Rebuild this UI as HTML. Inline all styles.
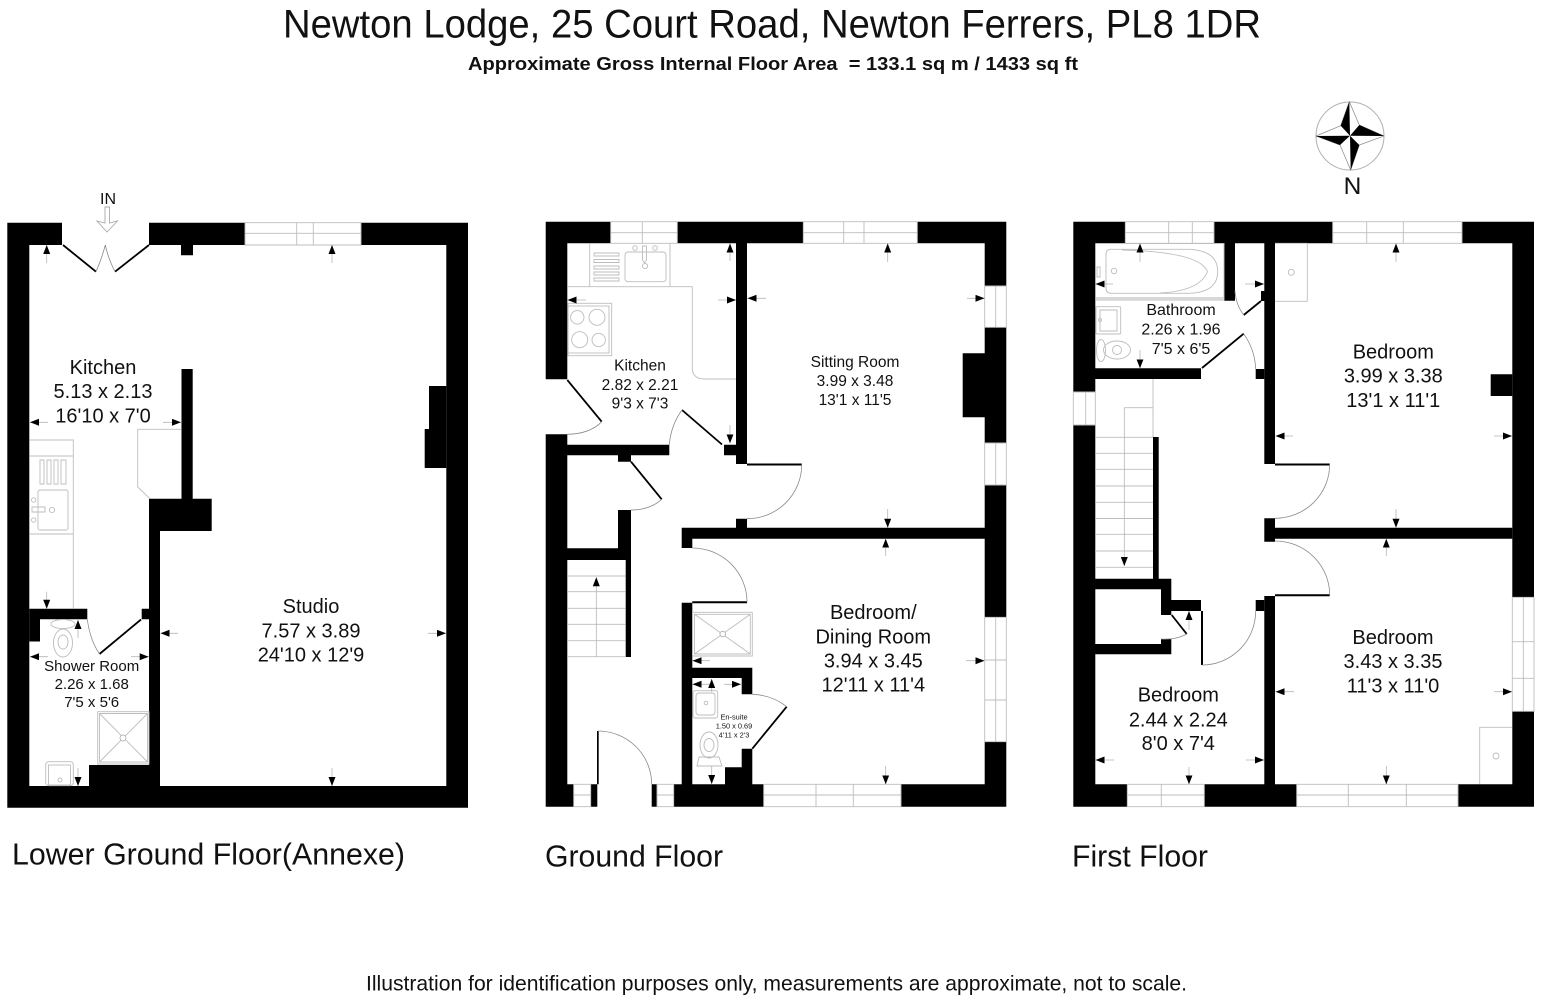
<!DOCTYPE html>
<html><head><meta charset="utf-8"><title>Newton Lodge floor plan</title>
<style>
html,body{margin:0;padding:0;background:#fff;width:1544px;height:1008px;overflow:hidden}
svg{display:block}
text{font-family:"Liberation Sans",sans-serif;fill:#111;text-anchor:middle}
.w{fill:#000}
.g{fill:none;stroke:#bdbdbd;stroke-width:.9}
.d{fill:none;stroke:#8a8a8a;stroke-width:.8}
.l{fill:none;stroke:#000;stroke-width:1.8}
.a{fill:none;stroke:#b5b5b5;stroke-width:.8;marker-end:url(#h)}
.t20{font-size:20px}.t15{font-size:15.5px}.t16{font-size:16px}.s15{font-size:15px}.t7{font-size:7.4px}
.f{font-size:31px;text-anchor:start}
</style></head><body>
<svg width="1544" height="1008" viewBox="0 0 1544 1008" xmlns="http://www.w3.org/2000/svg">
<defs><marker id="h" markerUnits="userSpaceOnUse" markerWidth="10" markerHeight="8" refX="9" refY="3.5" orient="auto"><path d="M0 0L9 3.5L0 7Z" fill="#000"/></marker></defs>
<rect width="1544" height="1008" fill="#fff"/>

<text x="772" y="37.300" font-size="39.500" textLength="978" lengthAdjust="spacingAndGlyphs">Newton Lodge, 25 Court Road, Newton Ferrers, PL8 1DR</text>
<text x="773" y="70" font-size="18.500" font-weight="bold" textLength="610" lengthAdjust="spacingAndGlyphs" xml:space="preserve">Approximate Gross Internal Floor Area  = 133.1 sq m / 1433 sq ft</text>

<!-- compass -->
<circle cx="1350" cy="136" r="34" fill="none" stroke="#b0b0b0" stroke-width="1"/>
<path d="M1349.300 101.700L1359.300 125L1384 136L1359.300 145L1350.700 170L1340 145L1316 136L1340.700 125.700Z" fill="#fff" stroke="#888" stroke-width=".7"/>
<path d="M1349.300 101.700L1340.700 125.700L1350 135.700ZM1384 136L1359.300 125L1350 135.700ZM1350.700 170L1359.300 145L1350 135.700ZM1316 136L1340 145L1350 135.700Z" fill="#000"/>
<text x="1352.500" y="194" font-size="24.500">N</text>

<!-- ================= LOWER GROUND ================= -->
<path class="w" d="M7.300 222.700H62V245H29.300V786H149V765H89V786H149V531H160V786H446.300V245H361V222.700H468V807.700H7.300Z"/>
<path class="w" d="M149 222.700H245V245H149ZM181 245H193V255.300H181ZM181.500 369H192.700V498.700H211.700V531H149V498.700H181.500Z"/>
<path class="w" d="M429 386H446.300V468H424.700V429H429Z"/>
<path class="w" d="M29.300 608.700H87.300V619.300H40V641.500H29.300ZM141.700 608.700H149V619.300H141.700ZM89 765H149V786H89Z"/>
<path class="g" d="M245 222.700H361V245H245ZM245 233.300H361M296.700 222.700V245M313.300 222.700V245"/>
<path class="l" d="M63 245L96 271.700M149 245L115 271.700M141 619.500L99.500 654"/>
<path class="d" d="M96 271.700Q102 258 105.300 245Q108 258 115 271.700M99.500 654Q90 640 87.300 619.500"/>
<path class="g" d="M29.300 440H73.300V608.700M29.300 456H73.300M29.300 534H73.300"/>
<path class="g" d="M40 460h4v24h-4zM47 460h4v24h-4zM54 460h4v24h-4zM61 460h5v24h-5z"/>
<rect class="g" x="38" y="490" width="30" height="40" rx="2"/>
<path class="g" d="M32 507h13v5h-13z"/><circle class="g" cx="33.700" cy="500" r="2.200"/><circle class="g" cx="33.700" cy="520" r="2.200"/><circle class="g" cx="52" cy="510" r="2.600"/>
<path class="g" d="M181 429.300H137.700V487L150 498.700"/>
<path class="g" d="M97.700 711.700H149V764H97.700ZM99.500 713.500H147.500V762H99.500ZM99.500 713.500L147.500 762M147.500 713.500L99.500 762"/><circle cx="123" cy="738" r="3" fill="#fff" stroke="#aaa" stroke-width=".8"/>
<ellipse class="g" cx="63" cy="624" rx="12" ry="4.500"/><ellipse class="g" cx="63" cy="643" rx="9.500" ry="14"/><ellipse class="g" cx="63" cy="642" rx="5" ry="7"/>
<rect class="g" x="45.700" y="761.700" width="27.600" height="24" rx="3"/><rect class="g" x="48.500" y="765" width="22" height="20"/><circle class="g" cx="60" cy="780" r="2"/>
<path d="M105 207V223L97 221L107 232L117.500 221L109.500 223V207Z" fill="#fff" stroke="#aaa" stroke-width=".9"/>
<text x="108" y="204" class="t16">IN</text>

<path class="a" d="M46.700 263V245"/><path class="a" d="M332 263V245"/>
<path class="a" d="M48 422.300H30"/><path class="a" d="M163 422.300H181"/>
<path class="a" d="M46.700 591.700V608.700"/><path class="a" d="M78 638V620"/>
<path class="a" d="M48 656.700H30"/><path class="a" d="M131 656.700H148.700"/>
<path class="a" d="M78 768V786"/><path class="a" d="M178 633.300H160.500"/><path class="a" d="M428 633.300H446"/><path class="a" d="M332 768V786"/>

<text x="103" y="374" class="t20">Kitchen</text><text x="103" y="398" class="t20">5.13 x 2.13</text><text x="103" y="422.500" class="t20">16'10 x 7'0</text>
<text x="91.700" y="671" class="s15">Shower Room</text><text x="91.700" y="689" class="s15">2.26 x 1.68</text><text x="91.700" y="707" class="s15">7'5 x 5'6</text>
<text x="311" y="613" class="t20">Studio</text><text x="311" y="637.500" class="t20">7.57 x 3.89</text><text x="311" y="661.700" class="t20">24'10 x 12'9</text>
<text x="12" y="864.500" class="f" textLength="393" lengthAdjust="spacingAndGlyphs">Lower Ground Floor(Annexe)</text>

<!-- ================= GROUND ================= -->
<path class="w" d="M545.700 221.700H610.700V243.300H567.300V379.300H545.700ZM677.300 221.700H803.300V243.300H747V464H736V455.300H724V444.700H736V243.300H677.300ZM917.300 221.700H1006.300V286H984.700V243.300H917.300ZM984.700 327.300H1006.300V443H984.700ZM984.700 485H1006.300V617.300H984.700ZM984.700 741.700H1006.300V806.700H901V784.300H984.700Z"/>
<path class="w" d="M962.700 353.300H985V417.300H962.700ZM545.700 434.300H567.300V784.300H573.700V806.700H545.700ZM567 444.700H669.300V455.300H631V461.700H618V455.300H567ZM618 510H631V657H625.700V560H567V548.300H618Z"/>
<path class="w" d="M681.700 527.700H736V518.700H747V527.700H985V538.700H692.300V548H681.700ZM681.700 602.700H692.300V667.700H752.300V694.300H741.700V678H692.300V784.300H725V767.300H741.700V748.700H752.300V784.300H763.700V806.700H673.700V784.300H681.700Z"/>
<path class="w" d="M590.700 784.300H597.300V806.700H590.700ZM651.700 784.300H657V806.700H651.700Z"/>
<path class="w" d="M692.300 601.300H747V603.300H692.300ZM747 463.500H801.700V465.500H747ZM597 731H598.700V784.300H597Z"/>
<path class="g" d="M610.700 221.700H677.300V243.300H610.700ZM610.700 232.700H677.300M642.300 221.700V243.300M803.300 221.700H917.300V243.300H803.300ZM803.300 232.700H917.300M843.700 221.700V243.300M864 221.700V243.300"/>
<path class="g" d="M984.700 286H1006.300V327.300H984.700ZM995.700 286V327.300M984.700 443H1006.300V485H984.700ZM995.700 443V485M984.700 617.300H1006.300V741.700H984.700ZM995.700 617.300V741.700M984.700 660H1006.300M984.700 700H1006.300"/>
<path class="g" d="M763.700 784.300H901V806.700H763.700ZM763.700 795H901M816 784.300V806.700M853.300 784.300V806.700M573.700 784.300H590.700V806.700H573.700ZM573.700 795H590.700M657 784.300H673.700V806.700H657ZM657 795H673.700"/>
<path class="l" d="M567.300 380L601.700 421.700M682 410L722 444.500M631 461.700L661.700 499.300M752.300 748.700L786.700 706.700"/>
<path class="d" d="M601.700 421.700Q590 434 567 434.300M682 410Q671 425 669.300 444.700M661.700 499.300Q650 510 631 510M786.700 706.700Q772 695 752.300 694.300M801.700 465A54.500 54 0 0 1 747 518.700M692.300 548A54.700 54 0 0 1 747 602M598 731A53.700 53.300 0 0 1 651.700 784.300"/>
<path class="g" d="M589.700 243.300V286.700M670 243.300V286.700M568 286.700H692.300V368Q692.300 379 705 379H736"/>
<path class="g" d="M594 253h25v3h-25zM594 259.500h25v3h-25zM594 266h25v3h-25zM594 272h25v3h-25zM594 278h25v3h-25z"/>
<rect class="g" x="625" y="252" width="41" height="29.700" rx="3"/><path class="g" d="M642.500 246h4v14l-2 3-2-3z"/><circle class="g" cx="635" cy="248" r="2.300"/><circle class="g" cx="655" cy="248" r="2.300"/><circle class="g" cx="645" cy="266" r="2.600"/>
<rect class="g" x="568" y="303.300" width="43.700" height="52.400"/><rect class="g" x="568" y="306" width="41" height="47"/>
<circle class="g" cx="577.300" cy="317.300" r="6.700"/><circle class="g" cx="597" cy="317.300" r="8"/><circle class="g" cx="579.700" cy="339.700" r="8"/><circle class="g" cx="598.700" cy="340" r="6.700"/>
<path class="g" d="M692.500 612.300H752.300V656H692.500ZM694.500 614.300H750.300V654H694.500ZM694.500 614.300L750.300 654M750.300 614.300L694.500 654"/><circle cx="722.700" cy="634" r="2.800" fill="#fff" stroke="#aaa" stroke-width=".8"/>
<path class="g" d="M567 576H625.700M567 591.700H625.700M567 608.300H625.700M567 624.300H625.700M567 640.700H625.700M567 656.700H625.700"/>
<rect class="g" x="693" y="690.700" width="24.700" height="27.300" rx="2"/><rect class="g" x="696" y="693" width="19" height="22" rx="3"/><circle class="g" cx="706" cy="703" r="1.800"/>
<ellipse class="g" cx="709" cy="745" rx="9" ry="13"/><ellipse class="g" cx="709" cy="745" rx="5" ry="6.500"/><path class="g" d="M699 757H719L722 766H697Z"/>

<path class="a" d="M730 261V243.500"/><path class="a" d="M730 425V443.300"/><path class="a" d="M586 300H567.500"/><path class="a" d="M718 300H736"/>
<path class="a" d="M766 298.300H747.500"/><path class="a" d="M967 298.300H984.500"/><path class="a" d="M887.700 262V243.500"/><path class="a" d="M887.700 509V527.700"/>
<path class="a" d="M885.700 556V538.700"/><path class="a" d="M885.700 766V784.300"/><path class="a" d="M710 660.700H692.500"/><path class="a" d="M966 660.700H984.500"/>
<path class="a" d="M710 684.300H692.500"/><path class="a" d="M724 684.300H741"/><path class="a" d="M711.700 692V679"/><path class="a" d="M711.700 766V784"/>
<path class="a" d="M596.300 656.700V577.300"/>

<text x="640" y="370.700" class="t15">Kitchen</text><text x="640" y="390" class="t15">2.82 x 2.21</text><text x="640" y="408.700" class="t15">9'3 x 7'3</text>
<text x="855" y="367" class="t15">Sitting Room</text><text x="855" y="386" class="t15">3.99 x 3.48</text><text x="855" y="405" class="t15">13'1 x 11'5</text>
<text x="873.300" y="619" class="t20">Bedroom/</text><text x="873.300" y="643.300" class="t20">Dining Room</text><text x="873.300" y="667.700" class="t20">3.94 x 3.45</text><text x="873.300" y="691.700" class="t20">12'11 x 11'4</text>
<text x="734" y="719.500" class="t7">En-suite</text><text x="734" y="728.500" class="t7">1.50 x 0.69</text><text x="734" y="737.500" class="t7">4'11 x 2'3</text>
<text x="545" y="866.500" class="f" textLength="178" lengthAdjust="spacingAndGlyphs">Ground Floor</text>

<!-- ================= FIRST ================= -->
<path class="w" d="M1073.300 221.700H1125.300V243.300H1095.300V392H1073.300ZM1214 221.700H1332.700V243.300H1275V464H1264.300V301H1261V291H1264.300V243.300H1235V300.700H1224.300V243.300H1214ZM1462 221.700H1534V597.300H1512.300V243.300H1462Z"/>
<path class="w" d="M1512.300 711.300H1534V806.700H1458V784.300H1512.300ZM1073.300 425H1095.300V784.300H1127.300V806.700H1073.300ZM1204.300 784.300H1264.300V596H1275V784.300H1296.700V806.700H1204.300Z"/>
<path class="w" d="M1095 368.300H1201V379H1095ZM1255.700 369H1264.300V379H1255.700ZM1490.700 374.300H1512.300V396H1490.700ZM1264.300 518.300H1275V527.700H1512.300V538.700H1275V541.700H1264.300Z"/>
<path class="w" d="M1153 437H1158.700V578.700H1171.300V600H1201V611H1171.300V615H1161V589.300H1095V578.700H1153ZM1095 644H1161V639H1171.300V654.300H1095ZM1255.700 600H1264.300V611H1255.700Z"/>
<path class="w" d="M1275 463.500H1329.700V465.500H1275ZM1275 594.300H1329.700V596.300H1275ZM1201 611H1203V665H1201Z"/>
<path class="g" d="M1125.300 221.700H1214V243.300H1125.300ZM1125.300 232.700H1214M1168.700 221.700V243.300M1192.300 221.700V243.300M1332.700 221.700H1462V243.300H1332.700ZM1332.700 232.700H1462M1366.700 221.700V243.300M1403.300 221.700V243.300"/>
<path class="g" d="M1073.300 392H1095.300V425H1073.300ZM1085.700 392V425M1512.300 597.300H1534V711.300H1512.300ZM1523.300 597.300V711.300M1512.300 641.700H1534M1512.300 678.300H1534"/>
<path class="g" d="M1127.300 784.300H1204.300V806.700H1127.300ZM1127.300 795H1204.300M1161.300 784.300V806.700M1296.700 784.300H1458V806.700H1296.700ZM1296.700 795H1458M1348.300 784.300V806.700M1406.300 784.300V806.700"/>
<path class="l" d="M1243.700 315L1261 301M1202 368L1243.700 333.700M1171.700 615L1186.700 634"/>
<path class="d" d="M1243.700 315Q1236 305 1235 291M1243.700 333.700Q1255 350 1255.700 369M1186.700 634Q1176 640 1161 639M1329.700 464.500A54.700 54 0 0 1 1275 518.300M1275 541A54.700 54 0 0 1 1329.700 595M1255.700 611A53.700 54 0 0 1 1202 665"/>
<path class="g" d="M1096 243.500H1224V300H1096"/><rect x="1096" y="297" width="128" height="3" fill="#d8d8d8"/>
<path class="g" d="M1106 254Q1106 249.300 1111 249.300H1190Q1217.700 251 1217.700 271.500Q1217.700 292 1190 293.300H1111Q1106 293.300 1106 288Z"/><path class="g" d="M1122 250Q1200 252 1207.500 271.500Q1200 291 1160 293"/><circle class="g" cx="1114" cy="271" r="2.700"/><path class="g" d="M1097 267h3v10h-3z"/>
<rect class="g" x="1096" y="306.700" width="24.700" height="27.300" rx="1"/><path class="g" d="M1100 310h17v21h-17z"/><circle class="g" cx="1100" cy="320" r="1.500"/>
<ellipse class="g" cx="1101" cy="350.500" rx="4.500" ry="11"/><ellipse class="g" cx="1117" cy="350" rx="13.500" ry="9"/><circle class="g" cx="1117" cy="350" r="4.500"/>
<path class="g" d="M1275 243.300H1307.300V301.300H1275M1479.700 784V727.300H1512"/><circle class="g" cx="1291.300" cy="272.300" r="3"/><circle class="g" cx="1496" cy="756" r="3"/>
<path class="g" d="M1153 379V437M1124.300 407.700H1153M1095 437.300H1153M1095 453.300H1153M1095 469.300H1153M1095 486H1153M1095 502.300H1153M1095 518.500H1153M1095 534.300H1153M1095 551H1153M1095 567.300H1153"/>

<path class="a" d="M1124.300 407.700V566"/>
<path class="a" d="M1140 262V243.500"/><path class="a" d="M1140 350V368.300"/><path class="a" d="M1113 284H1095.500"/><path class="a" d="M1245 284H1264"/>
<path class="a" d="M1396 262V243.500"/><path class="a" d="M1396 509V527.700"/><path class="a" d="M1293 436H1275.500"/><path class="a" d="M1494 436H1512"/>
<path class="a" d="M1386.300 556V538.700"/><path class="a" d="M1386.300 766V784.300"/><path class="a" d="M1294 691.700H1275.500"/><path class="a" d="M1494 691.700H1512"/>
<path class="a" d="M1114 760H1095.500"/><path class="a" d="M1246 760H1264"/><path class="a" d="M1189 767V784.300"/><path class="a" d="M1189 630V611"/>

<text x="1181" y="315" class="t16">Bathroom</text><text x="1181" y="334.700" class="t16">2.26 x 1.96</text><text x="1181" y="354" class="t16">7'5 x 6'5</text>
<text x="1393.300" y="358.700" class="t20">Bedroom</text><text x="1393.300" y="382.700" class="t20">3.99 x 3.38</text><text x="1393.300" y="407" class="t20">13'1 x 11'1</text>
<text x="1393" y="644" class="t20">Bedroom</text><text x="1393" y="668" class="t20">3.43 x 3.35</text><text x="1393" y="692.700" class="t20">11'3 x 11'0</text>
<text x="1178.300" y="701.700" class="t20">Bedroom</text><text x="1178.300" y="726.700" class="t20">2.44 x 2.24</text><text x="1178.300" y="750" class="t20">8'0 x 7'4</text>
<text x="1072" y="866.500" class="f" textLength="136" lengthAdjust="spacingAndGlyphs">First Floor</text>

<text x="776.500" y="990.500" font-size="21.500" textLength="821" lengthAdjust="spacingAndGlyphs">Illustration for identification purposes only, measurements are approximate, not to scale.</text>
</svg>
</body></html>
